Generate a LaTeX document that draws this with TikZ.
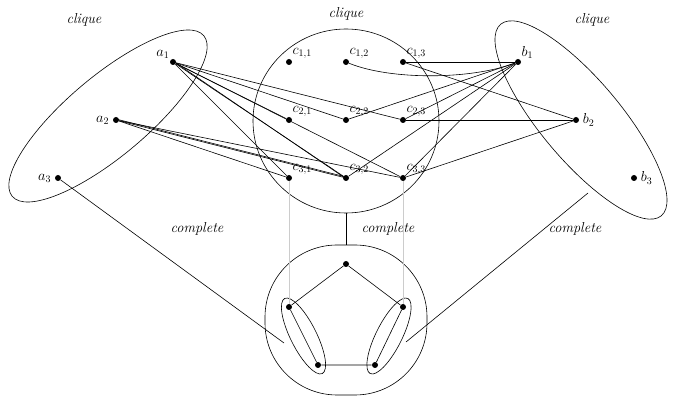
\documentclass[tikz,border=0pt]{standalone}
\usetikzlibrary{shapes.geometric}
\begin{document}
\begin{tikzpicture}[x=1pt,y=-1pt,line width=0.6pt,
 v/.style={circle,fill,inner sep=0pt,minimum size=6pt},
 lab/.style={font=\Large},
 it/.style={font=\itshape\Large}]
\useasboundingbox (0,0) rectangle (675,403);
\foreach \n/\x/\y in {a1/173/62,a2/116/120,a3/58/178,c11/289/62,c12/346/62,c13/403/62,c21/289/120,c22/346/120,c23/403/120,c31/289/178,c32/346/178,c33/403/178,b1/518/62,b2/576/120,b3/634/178,p1/346/264,p2/289/307,p3/403/307,p4/318/365,p5/375/365}
  \node[v] (\n) at (\x,\y) {};
\node[lab,anchor=south east,inner sep=1pt] at (a1.north west) {$a_1$};
\node[lab,anchor=east] at (a2.west) {$a_2$};
\node[lab,anchor=east] at (a3.west) {$a_3$};
\foreach \n/\t in {c11/{1,1},c12/{1,2},c13/{1,3},c21/{2,1},c22/{2,2},c23/{2,3},c31/{3,1},c32/{3,2},c33/{3,3}}
  \node[lab,anchor=south west,inner sep=1pt] at (\n.north east) {$c_{\t}$};
\node[lab,anchor=south west,inner sep=1pt] at (b1.north east) {$b_1$};
\node[lab,anchor=west] at (b2.east) {$b_2$};
\node[lab,anchor=west] at (b3.east) {$b_3$};
% cliques
\node[ellipse,draw,minimum width=250pt,minimum height=80pt,rotate=40] (L) at (108,116) {};
\node[ellipse,draw,minimum width=250pt,minimum height=80pt,rotate=-50] (R) at (581,120) {};
\node[ellipse,draw,minimum width=186pt,minimum height=184pt] (C) at (346,121) {};
\node[draw,minimum width=162pt,minimum height=150pt,rounded corners=72pt] (B) at (346,320) {};
\node[ellipse,draw,minimum width=84pt,minimum height=26pt,rotate=-63.4] (E1) at (303.5,336) {};
\node[ellipse,draw,minimum width=84pt,minimum height=26pt,rotate=63.4] (E2) at (389,336) {};
\node[it] at (84,20) {clique};
\node[it] at (346,14) {clique};
\node[it] at (592,20) {clique};
\node[it] at (197,229) {complete};
\node[it] at (388,229) {complete};
\node[it] at (575,229) {complete};
% edges
\foreach \t in {c21,c22,c23,c31,c33} \draw (a1) -- (\t);
\draw (a1) -- (c32); \draw ([yshift=1pt]a1.center) -- ([xshift=-1pt]c32.center);
\foreach \t in {c31,c33} \draw (a2) -- (\t);
\draw (a2) -- (c32); \draw ([yshift=1pt]a2.center) -- ([yshift=1pt]c32.center);
\foreach \t in {c13,c22,c23,c32,c33} \draw (b1) -- (\t);
\draw (c12) .. controls (390,80) and (470,80) .. (b1);
\foreach \t in {c13,c23,c33} \draw (b2) -- (\t);
\draw (p1)--(p2)--(p4)--(p5)--(p3)--(p1);
\draw (C.south) -- (B.north);
\draw[gray!40] (c31) -- (p2); \draw[gray!40] (c33) -- (p3);
\draw (a3) -- (284,343);
\draw (588,193) -- (406,342);
\end{tikzpicture}
\end{document}
